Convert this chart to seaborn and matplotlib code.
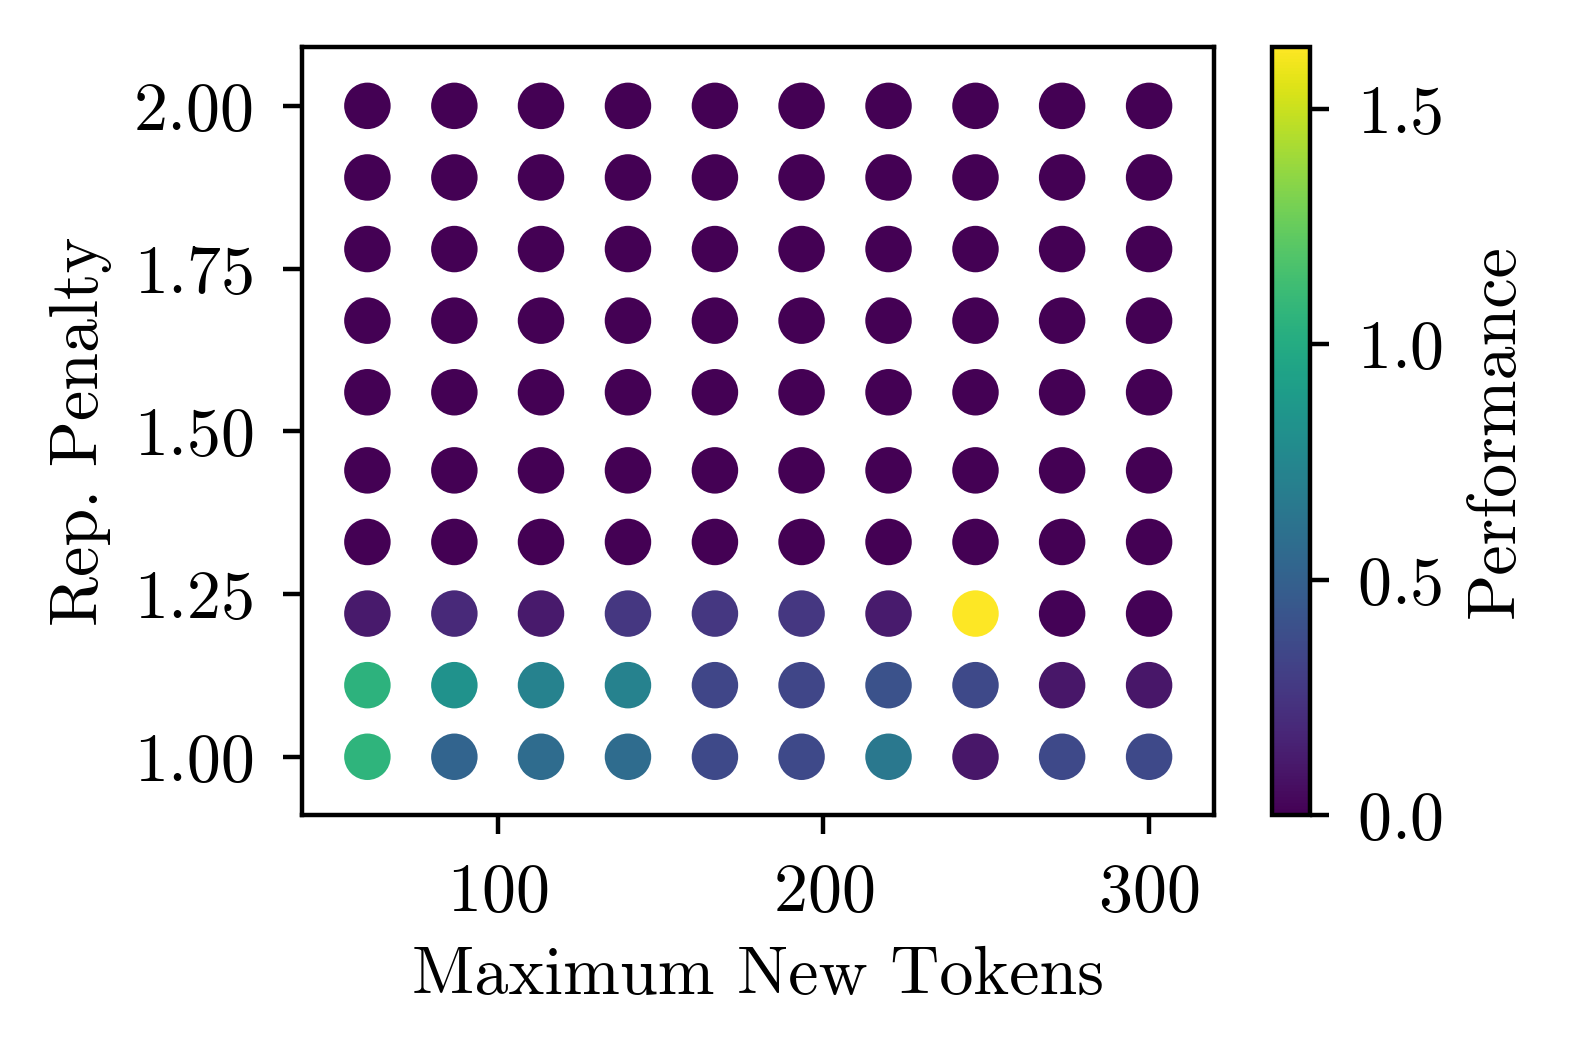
import numpy as np
import pandas as pd
import matplotlib
matplotlib.use('Agg')
import matplotlib.pyplot as plt
import seaborn as sns

sns.set_style('ticks')
plt.rcParams['font.family'] = 'serif'
plt.rcParams['font.serif'] = ['cmr10']
plt.rcParams['mathtext.fontset'] = 'cm'
plt.rcParams['axes.formatter.use_mathtext'] = True
plt.rcParams['font.size'] = 12.25
plt.rcParams['xtick.major.pad'] = 5
plt.rcParams['ytick.major.pad'] = 5
for k in ['text.color', 'axes.labelcolor', 'axes.edgecolor', 'xtick.color', 'ytick.color']:
    plt.rcParams[k] = 'black'

max_tokens = [60, 86.7, 113.3, 140, 166.7, 193.3, 220, 246.7, 273.3, 300]
rep_penalty = [1.0, 1.11, 1.22, 1.33, 1.44, 1.56, 1.67, 1.78, 1.89, 2.0]

# performance per row of rep. penalty (bottom to top), columns = max tokens
perf_100 = [1.06, 0.52, 0.57, 0.57, 0.36, 0.36, 0.65, 0.10, 0.36, 0.36]
perf_111 = [1.05, 0.83, 0.72, 0.72, 0.34, 0.34, 0.41, 0.36, 0.10, 0.10]
perf_122 = [0.11, 0.19, 0.11, 0.26, 0.26, 0.26, 0.12, 1.63, 0.01, 0.01]
perf_rest = [0.0] * 10
perf_rows = [perf_100, perf_111, perf_122] + [perf_rest] * 7

rows = []
for yi, row in zip(rep_penalty, perf_rows):
    for xi, p in zip(max_tokens, row):
        rows.append((xi, yi, p))
df = pd.DataFrame(rows, columns=['tokens', 'penalty', 'perf'])

vmax = df['perf'].max()

fig = plt.figure(figsize=(3.95, 2.65), dpi=400)
ax = fig.add_axes([0.1913, 0.2308, 0.5772, 0.7246])
cax = fig.add_axes([0.805, 0.2308, 0.0242, 0.7246])

sns.scatterplot(data=df, x='tokens', y='penalty', hue='perf', palette='viridis',
                hue_norm=(0, vmax), s=70, linewidth=0, legend=False, ax=ax)
ax.set_xlim(40, 320)
ax.set_ylim(0.91, 2.09)
ax.set_xticks([100, 200, 300])
ax.set_yticks([1.0, 1.25, 1.5, 1.75, 2.0])
ax.set_yticklabels(['1.00', '1.25', '1.50', '1.75', '2.00'])
ax.set_xlabel('Maximum New Tokens')
ax.set_ylabel('Rep. Penalty')

sm = plt.cm.ScalarMappable(cmap='viridis', norm=plt.Normalize(0, vmax))
cb = fig.colorbar(sm, cax=cax)
cb.set_ticks([0.0, 0.5, 1.0, 1.5])
cb.set_label('Performance')

fig.savefig('out.png', dpi=400)
